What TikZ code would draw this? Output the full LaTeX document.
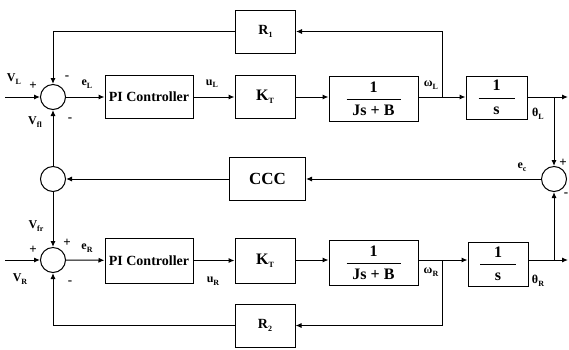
\documentclass[tikz,border=0pt]{standalone}
\usepackage{fontspec}
\setmainfont{Liberation Serif}
\usetikzlibrary{arrows.meta}
\newcommand\sbs[1]{\raisebox{-0.45ex}{\fontsize{8}{9}\selectfont #1}}
\newcommand\frcbox[3]{$\displaystyle{\hbox to #1{\hfil #2\hfil}\above 1pt \hbox to #1{\hfil #3\hfil}}$}
\begin{document}
\begin{tikzpicture}[x=1pt,y=-1pt,font=\bfseries,
  blk/.style={draw,line width=1pt,rectangle,inner sep=0pt},
  sumc/.style={draw,line width=1pt,circle,minimum size=25pt,inner sep=0pt},
  conn/.style={line width=1pt,-{Latex[length=6pt,width=5pt]}},
  lbl/.style={inner sep=0pt,font=\bfseries\fontsize{12}{13}\selectfont},
  sgn/.style={inner sep=0pt,font=\bfseries\fontsize{13}{13}\selectfont}]
\useasboundingbox (0,0) rectangle (569,349);
% summing junctions
\node[sumc] (sL) at (53,97) {};
\node[sumc] (sM) at (53,179) {};
\node[sumc] (sR) at (53,260) {};
\node[sumc] (sC) at (554,179) {};
% top row
\node[blk,minimum width=88pt,minimum height=43pt,font=\bfseries\fontsize{14}{16}\selectfont] (piL) at (149,97) {PI Controller};
\node[blk,minimum width=60pt,minimum height=43pt,font=\bfseries\fontsize{16}{18}\selectfont] (ktL) at (265,97) {K\sbs{T}};
\node[blk,minimum width=89pt,minimum height=45pt,font=\bfseries\fontsize{16}{18}\selectfont] (gL) at (373.5,99) {\frcbox{54pt}{1}{Js + B}};
\node[blk,minimum width=61pt,minimum height=43pt,font=\bfseries\fontsize{16}{18}\selectfont] (iL) at (496.5,97.5) {\frcbox{36pt}{1}{s}};
\node[blk,minimum width=60pt,minimum height=43pt,font=\bfseries\fontsize{14}{16}\selectfont] (r1) at (265.5,31.5) {R\sbs{1}};
% middle
\node[blk,minimum width=76pt,minimum height=43pt,font=\bfseries\fontsize{17}{19}\selectfont] (ccc) at (267.5,179) {CCC};
% bottom row
\node[blk,minimum width=88pt,minimum height=45pt,font=\bfseries\fontsize{14}{16}\selectfont] (piR) at (149,260.5) {PI Controller};
\node[blk,minimum width=60pt,minimum height=45pt,font=\bfseries\fontsize{16}{18}\selectfont] (ktR) at (265,260.5) {K\sbs{T}};
\node[blk,minimum width=89pt,minimum height=45pt,font=\bfseries\fontsize{16}{18}\selectfont] (gR) at (373.5,263) {\frcbox{54pt}{1}{Js + B}};
\node[blk,minimum width=60pt,minimum height=44pt,font=\bfseries\fontsize{16}{18}\selectfont] (iR) at (498,264) {\frcbox{36pt}{1}{s}};
\node[blk,minimum width=60pt,minimum height=43pt,font=\bfseries\fontsize{14}{16}\selectfont] (r2) at (265,325.5) {R\sbs{2}};
% coordinates
\coordinate (inL) at (5,97);
\coordinate (inR) at (5,260);
\coordinate (wL) at (442,97);
\coordinate (wR) at (442,260);
\coordinate (tL) at (554,97);
\coordinate (tR) at (554,260);
\coordinate (outL) at (568,97);
\coordinate (outR) at (568,260);
% top connectors
\draw[conn] (inL) -- (sL);
\draw[conn] (sL) -- (piL);
\draw[conn] (piL) -- (ktL);
\draw[conn] (ktL.east) -- (ktL.east -| gL.west);
\draw[conn] (gL.east |- wL) -- (iL.west |- wL);
\draw[conn] (wL) |- (r1);
\draw[conn] (r1) -| (sL);
\draw[conn] (iL.east |- tL) -- (outL);
\draw[conn] (tL) -- (sC);
% middle connectors
\draw[conn] (sC) -- (ccc);
\draw[conn] (ccc) -- (sM);
\draw[conn] (sM) -- (sL);
\draw[conn] (sM) -- (sR);
% bottom connectors
\draw[conn] (inR) -- (sR);
\draw[conn] (sR) -- (piR);
\draw[conn] (piR) -- (ktR);
\draw[conn] (ktR.east |- wR) -- (gR.west |- wR);
\draw[conn] (gR.east |- wR) -- (iR.west |- wR);
\draw[conn] (wR) |- (r2);
\draw[conn] (r2) -| (sR);
\draw[conn] (iR.east |- tR) -- (outR);
\draw[conn] (tR) -- (sC);
% labels top
\node[lbl] (lVL) at (14,79) {V\sbs{L}};
\node[sgn] (pL1) at (33,86) {+};
\node[sgn] (mL1) at (67,78) {-};
\node[lbl] (leL) at (87,84) {e\sbs{L}};
\node[lbl] (luL) at (212,84) {u\sbs{L}};
\node[lbl] (lVfl) at (35,122) {V\sbs{fl}};
\node[sgn] (mL2) at (70,120) {-};
\node[lbl] (lwL) at (431,85) {ω\sbs{L}};
\node[lbl] (lthL) at (538,114) {θ\sbs{L}};
% labels middle
\node[lbl] (lec) at (522,167) {e\sbs{c}};
\node[sgn] (pC) at (563,163) {+};
\node[sgn] (mC) at (566,195) {-};
% labels bottom
\node[lbl] (lVfr) at (36,226) {V\sbs{fr}};
\node[sgn] (pR1) at (67,243) {+};
\node[sgn] (pR2) at (33,250) {+};
\node[lbl] (leR) at (87,248) {e\sbs{R}};
\node[lbl] (lVR) at (20,279) {V\sbs{R}};
\node[sgn] (mR) at (70,283) {-};
\node[lbl] (luR) at (213,281) {u\sbs{R}};
\node[lbl] (lwR) at (431,272) {ω\sbs{R}};
\node[lbl] (lthR) at (538,281) {θ\sbs{R}};
\end{tikzpicture}
\end{document}
